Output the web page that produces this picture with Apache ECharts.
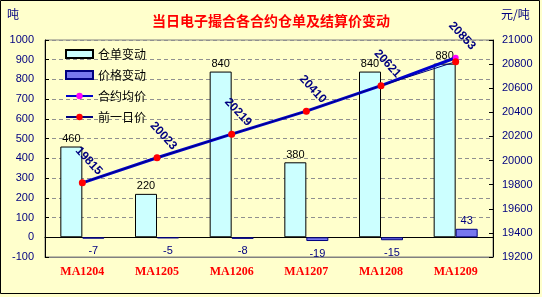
<!DOCTYPE html>
<html>
<head>
<meta charset="utf-8">
<script src="https://cdn.jsdelivr.net/npm/echarts@6/dist/echarts.min.js"></script>
<style>
html,body{margin:0;padding:0;background:#fff;}
#c{width:542px;height:297px;}
</style>
</head>
<body>
<div id="c"></div>
<script>
const categories = ['MA1204','MA1205','MA1206','MA1207','MA1208','MA1209'];
const warrantChange = [460, 220, 840, 380, 840, 880];
const priceChange = [-7, -5, -8, -19, -15, 43];
const avgPrice = [19815, 20023, 20219, 20410, 20621, 20853];
const prevPrice = [19815, 20023, 20219, 20410, 20621, 20820];
const leftAxis = {min: -100, max: 1000, interval: 100};
const rightAxis = {min: 19200, max: 21000, interval: 200};

const navy = '#000080';
const chart = echarts.init(document.getElementById('c'), null, {renderer: 'canvas'});
chart.setOption({
  backgroundColor: '#FFFFCC',
  animation: false,
  textStyle: {fontFamily: 'Liberation Sans, Arial, sans-serif'},
  graphic: [
    {type: 'rect', shape: {x: 0.5, y: 0.5, width: 539, height: 293}, style: {fill: 'none', stroke: '#000', lineWidth: 1}, silent: true, z: 100},
    {type: 'text', left: 'center', top: 14, style: {text: '当日电子撮合各合约仓单及结算价变动', fill: '#FF0000', font: 'bold 14px "Noto Sans CJK SC"'}},
    {type: 'text', left: 7, top: 8, style: {text: '吨', fill: navy, font: '12px "Noto Sans CJK SC"'}},
    {type: 'text', left: 501, top: 8, style: {text: '元/吨', fill: navy, font: '12px "Noto Sans CJK SC"'}}
  ],
  legend: {
    orient: 'vertical', left: 60, top: 43,
    itemWidth: 27, itemHeight: 8, itemGap: 9,
    textStyle: {fontSize: 12, color: '#000', fontFamily: 'Noto Sans CJK SC'},
    data: [{name: '仓单变动', icon: 'rect'}, {name: '价格变动', icon: 'rect'}, '合约均价', '前一日价']
  },
  grid: {left: 45, right: 49, top: 40, bottom: 40, show: true, borderColor: '#808080', borderWidth: 1, backgroundColor: '#FFFFCC'},
  xAxis: [
    {type: 'category', data: categories, position: 'bottom',
     axisLine: {onZero: false, lineStyle: {color: '#808080'}}, axisTick: {show: false},
     axisLabel: {color: '#FF0000', fontWeight: 'bold', fontFamily: 'Liberation Serif', fontSize: 12, margin: 9}},
    {type: 'category', data: categories, position: 'bottom',
     axisLine: {onZero: true, onZeroAxisIndex: 0, lineStyle: {color: '#000'}},
     axisTick: {inside: true, length: 5, lineStyle: {color: '#000'}},
     axisLabel: {show: false}}
  ],
  yAxis: [
    {type: 'value', min: leftAxis.min, max: leftAxis.max, interval: leftAxis.interval, position: 'left',
     axisLine: {show: true, lineStyle: {color: '#000'}}, axisTick: {show: true, inside: true, length: 4, lineStyle: {color: '#000'}},
     axisLabel: {color: navy, fontSize: 11, margin: 11, formatter: v => String(v)},
     splitLine: {lineStyle: {color: '#909090', type: [4, 3]}}},
    {type: 'value', min: rightAxis.min, max: rightAxis.max, interval: rightAxis.interval, position: 'right',
     axisLine: {show: true, lineStyle: {color: '#000'}}, axisTick: {show: true, inside: true, length: 4, lineStyle: {color: '#000'}},
     axisLabel: {color: navy, fontSize: 11, margin: 9, formatter: v => String(v)},
     splitLine: {show: false}}
  ],
  series: [
    {name: '仓单变动', type: 'bar', xAxisIndex: 0, yAxisIndex: 0, data: warrantChange,
     barWidth: 22, barGap: '0%',
     itemStyle: {color: '#CCFFFF', borderColor: '#000', borderWidth: 1},
     label: {show: true, position: 'top', distance: 2, color: '#000', fontSize: 11}},
    {name: '价格变动', type: 'bar', xAxisIndex: 0, yAxisIndex: 0,
     data: priceChange.map(v => ({value: v, label: {position: v < 0 ? 'bottom' : 'top', distance: v < 0 ? 7 : 2}})),
     barWidth: 22,
     itemStyle: {color: '#7777EE', borderColor: navy, borderWidth: 1},
     label: {show: true, color: navy, fontSize: 11}},
    {name: '合约均价', type: 'line', yAxisIndex: 1, data: avgPrice,
     lineStyle: {color: '#0000CC', width: 3}, symbol: 'circle', symbolSize: 6,
     itemStyle: {color: '#FF00FF'},
     label: {show: true, position: 'top', distance: 17, offset: [3, -6], rotate: -47, align: 'center', verticalAlign: 'middle',
             color: navy, fontSize: 12, fontWeight: 'bold'}},
    {name: '前一日价', type: 'line', yAxisIndex: 1, data: prevPrice,
     lineStyle: {color: navy, width: 1}, symbol: 'circle', symbolSize: 7,
     itemStyle: {color: '#FF0000'}}
  ]
});
</script>
</body>
</html>
